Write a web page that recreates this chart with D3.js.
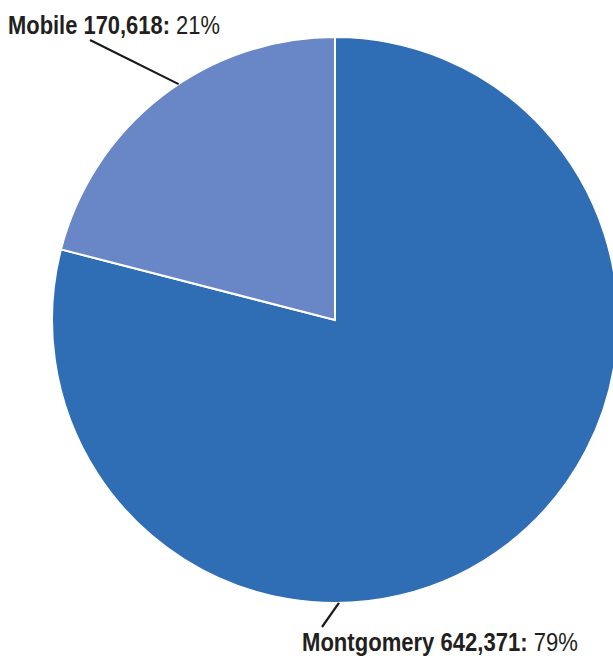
<!DOCTYPE html>
<html><head><meta charset="utf-8">
<script src="https://cdn.jsdelivr.net/npm/d3@7/dist/d3.min.js"></script>
<style>body{margin:0;background:#fff}svg{display:block}</style>
</head><body>
<script>
const categories = ["Montgomery", "Mobile"];
const values = [642371, 170618];
const percents = ["79%", "21%"];
const colors = ["#2f6eb5", "#6987c6"];

const W = 613, H = 656, cx = 335, cy = 320, R = 283;
const svg = d3.select("body").append("svg").attr("width", W).attr("height", H);
const g = svg.append("g").attr("transform", `translate(${cx},${cy})`);
const data = categories.map((c, i) => ({c, v: values[i], p: percents[i], col: colors[i]}));
const pie = d3.pie().value(d => d.v).sort(null);
const arc = d3.arc().innerRadius(0).outerRadius(R);
const arcs = pie(data);
g.selectAll("path").data(arcs).join("path")
  .attr("d", arc).attr("fill", d => d.data.col)
  .attr("stroke", "#fff").attr("stroke-width", 2);

const fmt = d3.format(",");
const font = "'Liberation Sans', Arial, sans-serif";
const labelPos = {
  Mobile: {tx: 8, ty: 34, w: 212, frac: 0.556, end: [-245, -280]},
  Montgomery: {tx: 302, ty: 651, w: 276, frac: 0.63, end: [-13, 307]}
};
arcs.forEach(a => {
  const d = a.data, lp = labelPos[d.c];
  const ang = a.startAngle + (a.endAngle - a.startAngle) * lp.frac;
  const x0 = Math.sin(ang) * R, y0 = -Math.cos(ang) * R;
  g.append("line").attr("x1", x0).attr("y1", y0).attr("x2", lp.end[0]).attr("y2", lp.end[1])
    .attr("stroke", "#1a1a1a").attr("stroke-width", 2.2);
  const t = svg.append("text").attr("x", 0).attr("y", 0)
    .attr("font-family", font).attr("font-size", 26).attr("fill", "#231f20");
  t.append("tspan").attr("font-weight", "bold").text(`${d.c} ${fmt(d.v)}:`);
  t.append("tspan").text(" " + d.p);
  const nat = t.node().getComputedTextLength();
  const s = lp.w / nat;
  t.attr("transform", `translate(${lp.tx},${lp.ty}) scale(${s},1)`);
});
</script>
</body></html>
